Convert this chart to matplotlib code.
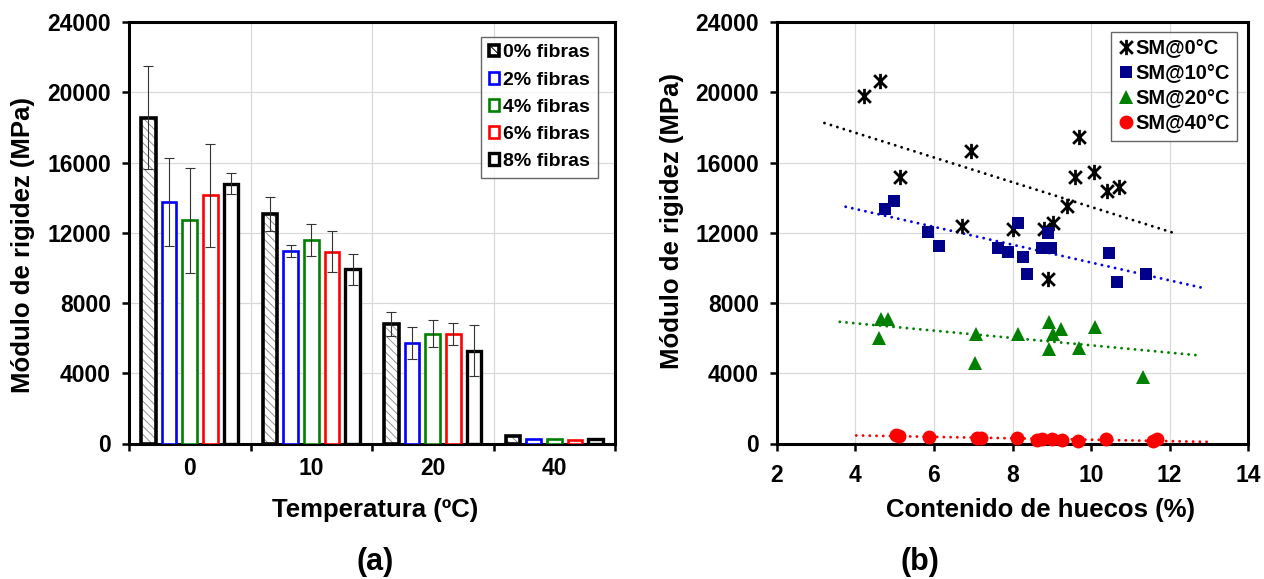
import numpy as np
import matplotlib
matplotlib.use("Agg")
import matplotlib.pyplot as plt
from matplotlib.patches import Patch
from matplotlib.path import Path

plt.rcParams['font.family'] = ['Liberation Sans', 'DejaVu Sans']
plt.rcParams['font.weight'] = 'bold'
plt.rcParams['hatch.linewidth'] = 0.7

# ---------------- (a) stiffness modulus by temperature and fibre content
temperaturas = ['0', '10', '20', '40']
fibras = ['0% fibras', '2% fibras', '4% fibras', '6% fibras', '8% fibras']
sm_f0 = [18560, 13070, 6790, 400]
sm_f2 = [13750, 10970, 5730, 280]
sm_f4 = [12700, 11570, 6260, 230]
sm_f6 = [14140, 10930, 6220, 190]
sm_f8 = [14800, 9920, 5270, 230]
err_f0 = [2950, 950, 675, 0]
err_f2 = [2500, 360, 930, 0]
err_f4 = [3000, 910, 770, 0]
err_f6 = [2930, 1150, 635, 0]
err_f8 = [600, 880, 1450, 0]

# ---------------- (b) stiffness modulus vs air-void content
huecos_0c = [4.21, 4.63, 5.13, 6.71, 6.94, 8.02, 8.81, 8.91, 9.02, 9.40, 9.60, 9.69, 10.08, 10.40, 10.72]
sm_0c = [19790, 20660, 15200, 12380, 16650, 12200, 12200, 9350, 12570, 13520, 15150, 17480, 15450, 14350, 14630]
huecos_10c = [4.75, 4.98, 5.84, 6.12, 7.64, 7.89, 8.15, 8.28, 8.36, 8.74, 8.91, 8.97, 10.47, 10.65, 11.40]
sm_10c = [13350, 13820, 12020, 11220, 11115, 10920, 12570, 10600, 9650, 11115, 11970, 11150, 10870, 9190, 9670]
huecos_20c = [4.60, 4.64, 4.84, 7.07, 7.04, 8.13, 8.94, 9.02, 9.24, 8.92, 9.69, 10.09, 11.33]
sm_20c = [6010, 7110, 7110, 6240, 4590, 6240, 6900, 6240, 6520, 5400, 5440, 6640, 3770]
huecos_40c = [5.02, 5.10, 5.87, 7.09, 7.20, 8.11, 8.62, 8.74, 9.00, 9.27, 9.66, 10.38, 11.57, 11.69]
sm_40c = [500, 440, 350, 330, 320, 300, 220, 240, 240, 200, 140, 240, 170, 240]
series_b = ['SM@0°C', 'SM@10°C', 'SM@20°C', 'SM@40°C']

W, H = 1264, 579
fig = plt.figure(figsize=(W / 100, H / 100), dpi=100)


def px_axes(x0, x1, y0, y1):
    return fig.add_axes([x0 / W, 1 - y1 / H, (x1 - x0) / W, (y1 - y0) / H])


axL = px_axes(129, 615, 22, 443.5)
axR = px_axes(777, 1248, 22, 443.5)

GRID = '#d9d9d9'
TICK_FS = 16.5
for ax in (axL, axR):
    ax.set_axisbelow(True)
    for s in ax.spines.values():
        s.set_linewidth(2.2)
        s.set_color('black')
    ax.tick_params(axis='both', which='major', direction='out', length=5,
                   width=1.8, labelsize=TICK_FS, pad=8)
    ax.set_ylim(0, 24000)
    ax.set_yticks(np.arange(0, 24001, 4000))
    ax.yaxis.grid(True, color=GRID, lw=0.9)

# ---- bars
valores = [sm_f0, sm_f2, sm_f4, sm_f6, sm_f8]
errores = [err_f0, err_f2, err_f4, err_f6, err_f8]
colores = ['black', '#0000FF', '#008000', '#FF0000', 'black']
grosor = [2.6, 1.9, 1.9, 1.9, 2.4]
centros = np.arange(len(temperaturas)) + 0.5
paso, ancho = 0.17, 0.12

for i, (v, e, c, lw) in enumerate(zip(valores, errores, colores, grosor)):
    x = centros + (i - 2) * paso
    if i == 0:
        axL.bar(x, v, ancho, color='white', edgecolor='#939393', hatch='\\\\\\\\',
                linewidth=0, zorder=2)
        axL.bar(x, v, ancho, fill=False, edgecolor=c, linewidth=lw, zorder=3)
    else:
        axL.bar(x, v, ancho, color='white', edgecolor=c, linewidth=lw, zorder=3)
    e = np.asarray(e, dtype=float)
    m = e > 0
    axL.errorbar(x[m], np.asarray(v)[m], yerr=e[m], fmt='none', ecolor='#333333',
                 elinewidth=0.8, capsize=3.5, capthick=0.8, zorder=4)

axL.set_xlim(0, 4)
axL.set_xticks(np.arange(0, 5))
axL.set_xticklabels([])
axL.set_xticks(centros, minor=True)
axL.set_xticklabels(temperaturas, minor=True)
axL.tick_params(axis='x', which='minor', length=0, labelsize=TICK_FS, pad=10)
axL.tick_params(axis='x', which='major', pad=10)
axL.xaxis.grid(True, which='major', color=GRID, lw=0.9)

handles_a = []
for i, (c, lw) in enumerate(zip(colores, grosor)):
    handles_a.append(Patch(facecolor='white', edgecolor=c, linewidth=lw,
                           hatch='\\\\\\' if i == 0 else None))
legA = axL.legend(handles_a, fibras, loc='upper right',
                  bbox_to_anchor=(598 / W, 1 - 36.7 / H), bbox_transform=fig.transFigure,
                  fontsize=14, frameon=True, fancybox=False, borderaxespad=0,
                  handlelength=0.55, handleheight=0.55, handletextpad=0.2,
                  labelspacing=0.52, borderpad=0.4)
legA.get_frame().set_edgecolor('#404040')
legA.get_frame().set_linewidth(1.0)

# ---- scatter with linear trends
asterisco = Path([(-1, -1), (1, 1), (-1, 1), (1, -1), (0, -1.2), (0, 1.2)],
                 [Path.MOVETO, Path.LINETO, Path.MOVETO, Path.LINETO, Path.MOVETO, Path.LINETO])
estilos = [
    dict(marker=asterisco, ms=11, mew=2.0, color='black', mfc='none'),
    dict(marker='s', ms=9, mew=0, color='#00008B'),
    dict(marker='^', ms=10, mew=0, color='#008000'),
    dict(marker='o', ms=10, mew=0, color='#FF0000'),
]
trend_col = ['black', '#0000EE', '#008000', '#FF0000']
datos_b = [(huecos_0c, sm_0c), (huecos_10c, sm_10c), (huecos_20c, sm_20c), (huecos_40c, sm_40c)]
handles_b = []
for (hx, hy), st, tc, lab in zip(datos_b, estilos, trend_col, series_b):
    hx = np.asarray(hx)
    hy = np.asarray(hy)
    k, b0 = np.polyfit(hx, hy, 1)
    xt = np.array([hx.min() - 1.0, hx.max() + 1.42])
    axR.plot(xt, k * xt + b0, color=tc, lw=2.1, linestyle=(0, (0.01, 2.3)),
             dash_capstyle='round', zorder=2)
    ln, = axR.plot(hx, hy, linestyle='none', zorder=3, clip_on=False, **st)
    handles_b.append(ln)

axR.set_xlim(2, 14)
axR.set_xticks(np.arange(2, 15, 2))
axR.xaxis.grid(True, color=GRID, lw=0.9)
axR.tick_params(axis='x', pad=10)

legB = axR.legend(handles_b, series_b, loc='upper right',
                  bbox_to_anchor=(1237 / W, 1 - 32.3 / H), bbox_transform=fig.transFigure,
                  fontsize=14.5, frameon=True, fancybox=False, borderaxespad=0,
                  numpoints=1, handlelength=0.75, handletextpad=0.1,
                  labelspacing=0.3, borderpad=0.35, markerscale=1.0)
legB.get_frame().set_edgecolor('#404040')
legB.get_frame().set_linewidth(1.0)

# ---- labels
fig.text(23 / W, 1 - 245 / H, 'Módulo de rigidez (MPa)', rotation=90,
         ha='center', va='center', fontsize=18.5)
fig.text(672 / W, 1 - 221 / H, 'Módulo de rigidez (MPa)', rotation=90,
         ha='center', va='center', fontsize=18.5)
fig.text(375 / W, 1 - 510 / H, 'Temperatura (ºC)', ha='center', va='center', fontsize=18.5)
fig.text(1040 / W, 1 - 510 / H, 'Contenido de huecos (%)', ha='center', va='center',
         fontsize=18.5)
fig.text(375 / W, 1 - 562 / H, '(a)', ha='center', va='center', fontsize=22)
fig.text(920 / W, 1 - 562 / H, '(b)', ha='center', va='center', fontsize=22)

fig.savefig('out.png', dpi=100)
